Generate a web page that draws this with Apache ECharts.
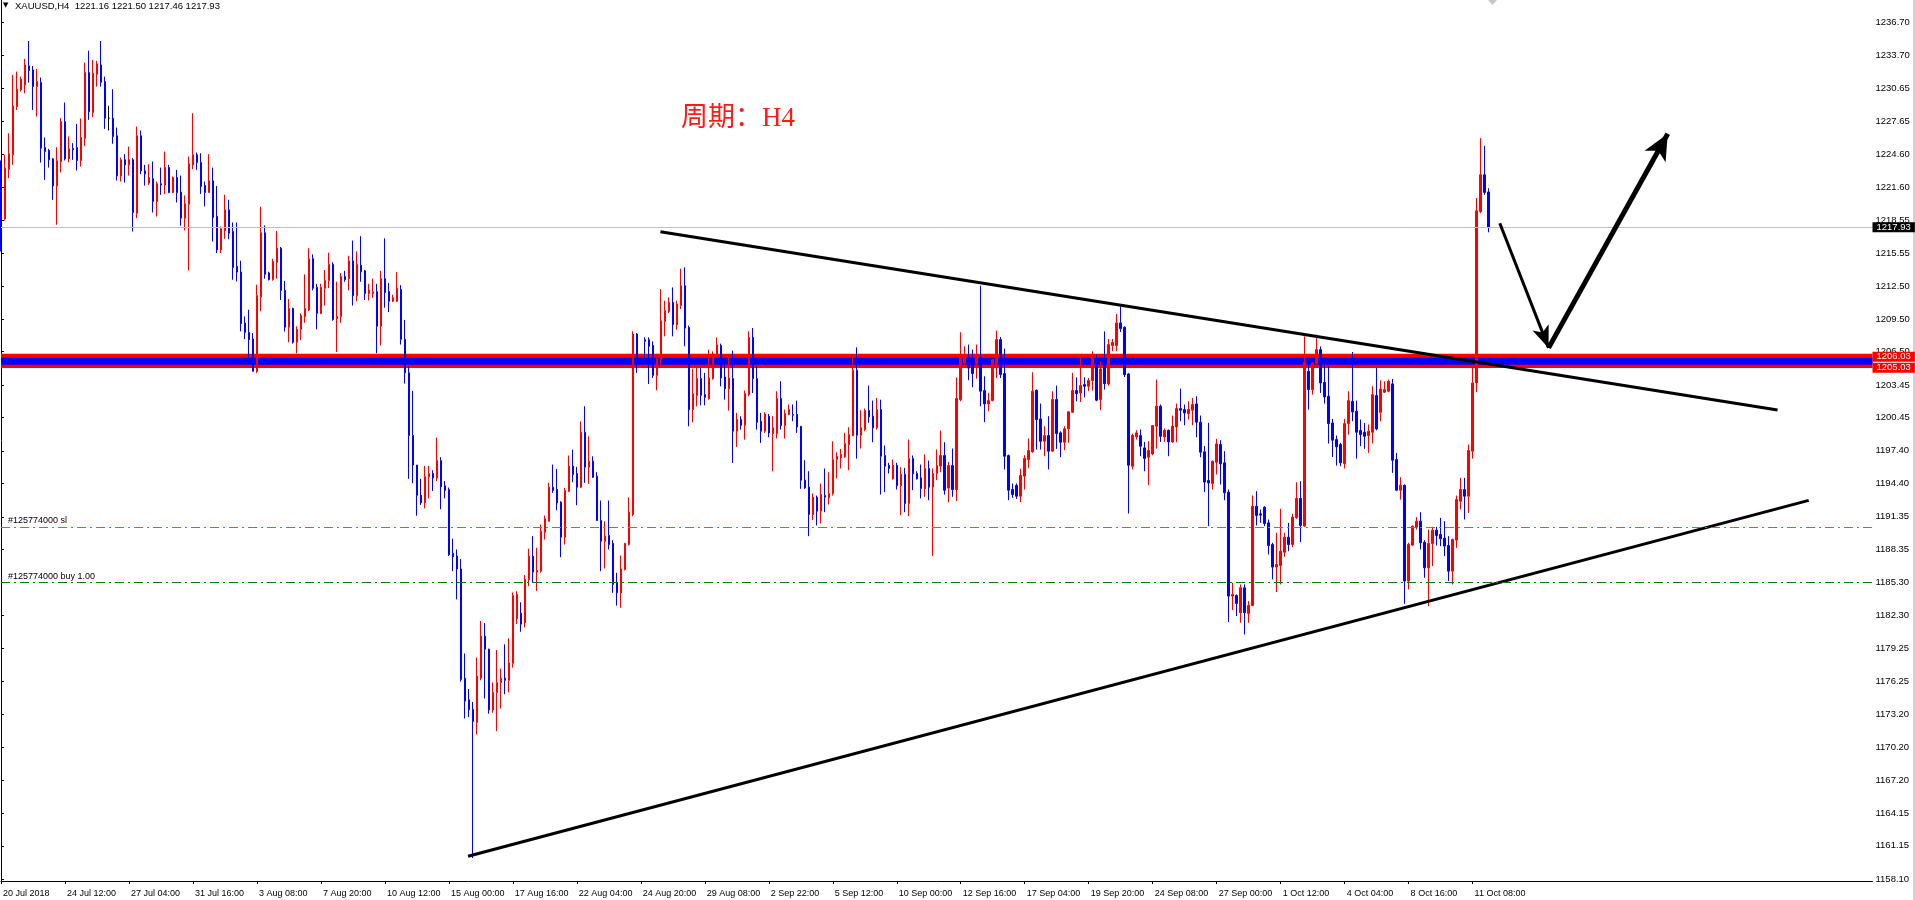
<!DOCTYPE html>
<html><head><meta charset="utf-8">
<script src="https://cdn.jsdelivr.net/npm/echarts@6/dist/echarts.min.js"></script>
<style>html,body{margin:0;padding:0;background:#fff;}#c{width:1915px;height:900px;}</style>
</head><body><div id="c"></div>
<script>
// ---------------- data ----------------
const tickLabels = ["20 Jul 2018","24 Jul 12:00","27 Jul 04:00","31 Jul 16:00","3 Aug 08:00","7 Aug 20:00","10 Aug 12:00","15 Aug 00:00","17 Aug 16:00","22 Aug 04:00","24 Aug 20:00","29 Aug 08:00","2 Sep 22:00","5 Sep 12:00","10 Sep 00:00","12 Sep 16:00","17 Sep 04:00","19 Sep 20:00","24 Sep 08:00","27 Sep 00:00","1 Oct 12:00","4 Oct 04:00","8 Oct 16:00","11 Oct 08:00"];
const barsPerLabel = 16;
const slotCount = 469; // bar slots incl. empty right margin (chart shift)
const yTicks = [1236.70,1233.70,1230.65,1227.65,1224.60,1221.60,1218.55,1215.55,1212.50,1209.50,1206.50,1203.45,1200.45,1197.40,1194.40,1191.35,1188.35,1185.30,1182.30,1179.25,1176.25,1173.20,1170.20,1167.20,1164.15,1161.15,1158.10];
// [open, close, low, high]
const candles = [
[1223.34,1218.76,1215.70,1224.05],[1218.70,1223.34,1218.54,1224.57],[1223.25,1224.66,1222.43,1226.55],[1224.57,1229.06,1223.65,1231.90],
[1229.00,1230.59,1228.69,1232.21],[1230.53,1231.51,1230.37,1231.75],[1230.99,1232.82,1230.22,1233.37],[1232.73,1232.30,1231.20,1235.02],
[1232.36,1230.83,1228.69,1232.73],[1230.83,1231.29,1228.08,1232.45],[1231.20,1225.18,1223.86,1231.66],[1225.24,1224.87,1222.27,1226.16],
[1224.96,1224.11,1223.40,1225.12],[1224.20,1221.72,1220.44,1224.26],[1221.72,1224.02,1218.15,1225.27],[1223.96,1227.62,1222.95,1227.93],
[1227.62,1224.20,1224.05,1229.37],[1224.20,1225.12,1223.89,1226.25],[1225.15,1225.03,1224.11,1225.64],[1225.24,1224.05,1223.13,1227.41],
[1224.05,1226.16,1223.50,1227.90],[1226.10,1232.12,1225.39,1233.03],[1232.12,1228.54,1227.78,1234.13],[1228.45,1232.06,1228.02,1233.28],
[1231.96,1232.91,1230.83,1233.19],[1232.82,1231.23,1230.83,1235.02],[1231.29,1227.93,1226.95,1231.75],[1227.93,1227.93,1226.80,1229.06],
[1227.93,1226.25,1225.58,1230.59],[1226.31,1222.64,1222.21,1227.07],[1222.64,1224.11,1222.12,1224.32],[1224.11,1223.65,1222.03,1224.63],
[1223.65,1224.11,1222.67,1225.33],[1224.11,1219.28,1217.53,1224.26],[1219.22,1226.31,1218.76,1227.16],[1226.31,1223.10,1222.79,1226.80],
[1223.10,1222.82,1221.75,1223.65],[1221.97,1222.49,1221.81,1223.71],[1222.37,1220.29,1219.28,1223.96],[1220.29,1221.91,1218.91,1222.12],
[1221.91,1221.81,1220.90,1223.40],[1221.81,1223.40,1220.96,1224.87],[1223.40,1221.11,1221.05,1223.65],[1221.11,1222.49,1221.05,1222.58],
[1222.49,1221.11,1220.20,1223.19],[1221.14,1218.76,1218.06,1222.67],[1218.76,1220.07,1217.63,1220.84],[1220.04,1223.74,1213.96,1224.41],
[1223.65,1224.57,1223.25,1228.39],[1224.57,1223.86,1223.19,1224.78],[1223.86,1221.66,1220.99,1224.72],[1221.75,1221.11,1219.83,1222.12],
[1221.11,1222.18,1221.11,1224.63],[1222.18,1218.82,1216.62,1223.40],[1218.91,1215.85,1215.55,1221.72],[1215.85,1217.78,1215.55,1217.99],
[1217.60,1219.52,1216.86,1220.90],[1219.52,1217.38,1216.83,1220.44],[1217.53,1214.23,1213.10,1218.36],[1214.33,1213.81,1212.95,1218.36],
[1213.81,1209.07,1208.36,1214.85],[1209.13,1208.27,1207.66,1209.74],[1208.27,1207.60,1205.37,1210.35],[1207.66,1204.70,1204.70,1208.21],
[1204.70,1211.64,1204.54,1212.65],[1211.53,1217.42,1210.22,1219.80],[1217.42,1213.60,1213.20,1218.09],[1213.72,1213.12,1213.04,1213.84],
[1213.12,1214.79,1213.02,1215.03],[1214.71,1215.99,1213.20,1217.58],[1215.99,1212.13,1211.25,1216.11],[1212.13,1208.75,1208.35,1213.00],
[1208.75,1210.46,1207.36,1211.33],[1210.46,1207.36,1207.24,1210.54],[1207.36,1208.55,1206.36,1208.83],[1208.55,1209.82,1207.56,1210.02],
[1209.74,1210.46,1209.15,1213.60],[1210.34,1215.03,1210.22,1215.99],[1215.03,1212.33,1212.13,1215.43],[1212.41,1210.02,1208.55,1212.73],
[1210.02,1212.41,1209.94,1212.73],[1212.33,1213.04,1210.74,1214.00],[1213.04,1214.51,1212.33,1215.59],[1214.51,1209.46,1209.34,1214.71],
[1209.54,1209.74,1206.48,1212.92],[1209.74,1213.40,1209.15,1213.72],[1213.40,1213.12,1212.92,1213.92],[1213.20,1214.83,1212.13,1215.31],
[1214.83,1211.65,1210.74,1216.70],[1211.65,1214.51,1211.13,1215.71],[1214.43,1213.84,1212.92,1217.10],[1213.92,1211.85,1211.25,1214.00],
[1211.85,1212.13,1211.21,1212.73],[1211.85,1212.01,1211.45,1213.20],[1212.01,1208.83,1206.36,1212.73],[1208.83,1213.20,1207.08,1213.92],
[1213.20,1211.93,1210.54,1216.90],[1212.01,1211.13,1210.14,1212.81],[1211.13,1211.45,1211.05,1211.73],[1211.13,1212.33,1211.05,1213.80],
[1212.21,1207.64,1207.16,1212.61],[1207.64,1204.57,1203.58,1209.42],[1204.57,1198.81,1194.83,1205.17],[1198.81,1196.10,1194.43,1202.90],
[1196.10,1193.32,1191.45,1196.10],[1193.32,1192.64,1192.44,1194.83],[1192.64,1195.03,1192.12,1196.02],[1195.03,1195.31,1193.04,1196.02],
[1195.31,1194.91,1193.72,1195.62],[1194.91,1196.50,1194.63,1198.61],[1196.50,1194.11,1192.04,1196.82],[1194.19,1193.76,1193.04,1194.63],
[1193.84,1187.87,1187.75,1194.03],[1187.99,1187.67,1186.36,1189.34],[1187.75,1186.56,1183.77,1188.35],[1186.56,1176.42,1176.22,1187.47],
[1176.54,1174.43,1172.84,1178.80],[1174.55,1173.63,1172.96,1175.54],[1173.67,1172.56,1160.03,1174.35],[1172.48,1176.74,1171.36,1178.44],
[1176.54,1180.39,1176.34,1181.79],[1180.39,1179.20,1174.67,1181.59],[1179.20,1173.63,1173.28,1179.24],[1173.63,1175.22,1173.36,1176.14],
[1175.22,1176.14,1171.68,1179.12],[1176.14,1176.54,1173.75,1177.41],[1176.54,1176.34,1175.06,1179.64],[1176.34,1177.93,1175.22,1180.19],
[1177.90,1184.13,1177.50,1184.40],[1182.00,1184.22,1181.50,1184.52],[1182.50,1181.50,1180.80,1183.50],[1181.60,1185.59,1181.20,1186.00],
[1185.59,1187.73,1184.98,1188.41],[1187.73,1186.27,1185.29,1189.57],[1186.27,1186.42,1184.53,1188.50],[1186.36,1190.03,1186.21,1190.64],
[1189.93,1191.16,1189.26,1191.46],[1190.94,1194.06,1190.94,1194.46],[1194.06,1193.75,1193.54,1196.14],[1193.85,1192.62,1191.95,1195.74],
[1192.68,1189.48,1187.64,1192.78],[1189.48,1193.75,1188.80,1194.00],[1193.69,1195.99,1193.63,1196.97],[1195.99,1195.22,1194.52,1197.51],
[1195.31,1194.06,1192.41,1195.93],[1194.06,1199.10,1193.99,1200.11],[1199.10,1195.90,1194.46,1201.49],[1195.90,1196.45,1194.37,1198.74],
[1196.45,1194.98,1194.92,1196.90],[1195.07,1191.00,1191.00,1195.44],[1191.00,1189.11,1186.36,1192.84],[1189.11,1189.57,1186.60,1190.94],
[1189.63,1188.80,1188.35,1192.84],[1188.90,1185.14,1184.37,1189.20],[1185.29,1184.37,1183.20,1186.21],[1184.37,1186.57,1183.00,1187.79],
[1186.51,1188.90,1186.42,1188.96],[1188.80,1191.77,1188.71,1193.14],[1191.55,1208.12,1191.40,1208.37],[1208.12,1205.83,1204.55,1208.21],
[1205.83,1205.40,1205.31,1205.98],[1207.60,1207.45,1205.77,1207.82],[1207.60,1206.99,1203.54,1207.82],[1207.08,1204.33,1204.09,1207.45],
[1204.33,1205.83,1202.96,1205.92],[1205.77,1209.34,1205.31,1212.25],[1209.28,1210.26,1207.91,1211.18],[1210.20,1211.03,1210.05,1211.48],
[1211.03,1208.98,1207.91,1212.40],[1208.98,1210.87,1208.52,1211.18],[1210.75,1212.55,1210.41,1214.11],[1212.55,1208.67,1207.00,1214.23],
[1208.73,1201.18,1199.65,1208.89],[1201.18,1202.65,1200.02,1204.94],[1202.47,1204.03,1201.49,1205.00],[1204.03,1202.50,1201.58,1205.00],
[1202.56,1202.31,1201.58,1204.55],[1202.19,1204.09,1202.10,1206.68],[1204.03,1206.29,1203.93,1206.53],[1206.23,1207.14,1206.08,1207.82],
[1207.08,1204.09,1203.32,1207.24],[1204.18,1203.11,1202.10,1205.31],[1203.11,1204.09,1201.09,1206.08],[1204.03,1199.20,1196.29,1206.59],
[1199.20,1200.27,1197.76,1200.88],[1200.27,1199.75,1199.35,1200.57],[1199.75,1202.65,1198.43,1202.93],[1202.56,1207.82,1202.41,1208.37],
[1207.82,1204.03,1202.71,1208.67],[1204.03,1200.02,1199.35,1205.16],[1200.11,1199.20,1198.13,1200.88],[1199.20,1200.78,1199.04,1200.94],
[1200.57,1199.04,1198.65,1200.78],[1198.99,1199.51,1195.53,1200.58],[1198.99,1202.20,1198.53,1202.87],[1202.20,1199.72,1199.35,1203.79],
[1199.72,1200.82,1198.53,1201.19],[1200.73,1201.19,1200.67,1201.65],[1200.73,1200.67,1200.12,1201.65],[1200.73,1199.60,1199.05,1202.01],
[1199.66,1194.71,1193.91,1199.66],[1194.71,1194.00,1193.91,1196.54],[1194.07,1191.56,1189.57,1195.53],[1191.56,1193.15,1191.04,1193.49],
[1193.15,1191.86,1190.55,1193.30],[1191.86,1193.39,1190.73,1194.40],[1193.30,1193.15,1191.77,1195.78],[1193.09,1193.49,1192.48,1195.44],
[1193.49,1196.60,1193.30,1198.28],[1196.60,1196.91,1194.86,1197.27],[1196.76,1197.06,1195.78,1197.58],[1196.85,1198.07,1196.76,1199.05],
[1197.98,1198.89,1195.62,1199.57],[1198.80,1204.79,1198.74,1206.02],[1204.79,1198.83,1196.69,1206.90],[1198.83,1199.51,1197.61,1201.13],
[1199.35,1201.10,1199.20,1201.28],[1201.10,1200.52,1199.97,1203.39],[1200.58,1199.51,1198.19,1202.01],[1199.51,1201.19,1199.35,1202.26],
[1201.19,1196.91,1193.39,1202.10],[1196.97,1195.99,1193.61,1197.89],[1196.05,1195.78,1195.32,1196.30],[1194.83,1196.05,1194.77,1196.60],
[1196.05,1194.22,1193.85,1196.30],[1194.22,1195.23,1191.50,1195.90],[1195.23,1192.57,1191.77,1195.84],[1192.57,1196.69,1191.41,1198.44],
[1196.69,1195.29,1193.79,1196.97],[1195.32,1194.83,1194.77,1195.53],[1194.92,1193.94,1193.03,1196.14],[1193.94,1195.78,1193.18,1197.06],
[1195.78,1194.07,1192.87,1196.51],[1194.07,1195.32,1187.74,1195.78],[1195.32,1196.05,1194.71,1197.52],[1196.00,1196.97,1195.44,1199.26],
[1196.97,1193.79,1193.39,1198.19],[1194.00,1196.05,1192.69,1196.39],[1196.05,1193.85,1193.18,1197.61],[1193.85,1202.20,1192.78,1204.15],
[1202.10,1206.02,1201.95,1208.28],[1205.47,1206.02,1205.10,1207.00],[1206.00,1205.00,1203.88,1207.15],[1205.30,1204.50,1203.24,1206.69],
[1205.41,1205.93,1204.03,1207.15],[1205.93,1202.87,1201.49,1212.56],[1202.93,1201.71,1200.03,1204.24],[1201.71,1202.01,1201.03,1202.72],
[1202.01,1205.77,1201.95,1205.80],[1205.31,1207.61,1204.09,1208.43],[1207.61,1204.40,1204.09,1207.85],[1204.49,1196.91,1195.69,1206.78],
[1196.97,1193.79,1192.87,1197.06],[1193.85,1193.39,1193.09,1194.40],[1194.22,1193.24,1192.99,1194.40],[1193.24,1195.14,1192.69,1195.75],
[1195.08,1196.70,1193.85,1197.00],[1196.60,1197.43,1195.84,1198.53],[1197.31,1202.87,1197.22,1204.61],[1202.96,1200.27,1197.52,1203.02],
[1200.33,1198.28,1197.52,1201.74],[1198.28,1198.80,1196.91,1199.66],[1198.80,1197.37,1195.69,1200.58],[1197.37,1202.11,1197.31,1202.87],
[1202.11,1198.99,1197.58,1203.39],[1199.05,1198.19,1196.82,1199.20],[1198.19,1199.42,1197.46,1199.66],[1199.42,1200.98,1198.13,1201.04],
[1200.95,1202.93,1200.88,1204.55],[1202.93,1202.66,1201.95,1204.15],[1202.72,1203.39,1201.89,1206.02],[1203.48,1203.33,1202.32,1204.15],
[1203.33,1203.85,1202.87,1204.09],[1203.85,1206.08,1202.93,1206.54],[1205.62,1202.05,1201.95,1206.23],[1202.11,1204.92,1201.13,1205.62],
[1205.31,1203.57,1203.02,1208.37],[1203.54,1207.15,1203.39,1207.67],[1207.06,1207.36,1206.54,1207.67],[1207.06,1209.14,1206.54,1209.96],
[1209.14,1208.62,1208.31,1210.66],[1208.74,1204.40,1204.18,1208.83],[1204.46,1196.08,1191.65,1204.55],[1195.99,1198.83,1195.69,1198.99],
[1198.68,1199.05,1198.44,1199.29],[1198.80,1197.83,1196.91,1199.36],[1197.67,1196.70,1195.53,1198.22],[1196.82,1197.43,1194.25,1198.28],
[1197.12,1199.72,1197.00,1199.75],[1199.66,1201.50,1197.61,1203.94],[1201.50,1198.74,1198.22,1201.65],[1198.68,1199.29,1198.22,1199.45],
[1199.29,1198.22,1196.91,1199.36],[1198.22,1199.66,1198.13,1200.64],[1199.60,1201.28,1198.19,1201.74],[1201.28,1201.13,1200.12,1203.11],
[1201.19,1200.88,1199.75,1201.65],[1200.82,1201.19,1200.27,1201.95],[1201.13,1201.65,1199.75,1202.26],[1201.71,1200.03,1198.65,1202.41],
[1200.03,1197.28,1196.82,1200.64],[1197.31,1194.53,1193.61,1197.83],[1194.68,1194.46,1190.49,1199.97],[1194.40,1196.45,1193.85,1196.51],
[1196.36,1198.04,1195.23,1198.50],[1197.98,1196.21,1194.31,1198.38],[1196.30,1193.55,1192.87,1197.37],[1193.61,1184.07,1181.69,1193.85],
[1184.07,1184.22,1182.79,1185.29],[1184.13,1183.40,1182.24,1184.22],[1182.54,1184.83,1181.62,1185.14],[1184.83,1182.54,1180.55,1185.14],
[1182.48,1183.21,1181.62,1183.61],[1183.21,1192.32,1183.15,1193.30],[1192.32,1191.47,1190.55,1193.70],[1191.62,1191.50,1190.79,1192.02],
[1192.23,1190.73,1190.49,1192.32],[1190.79,1188.72,1187.89,1191.10],[1188.81,1186.73,1185.60,1188.96],[1186.73,1186.97,1184.44,1189.88],
[1186.88,1188.19,1185.14,1192.08],[1188.10,1189.48,1187.68,1189.88],[1189.48,1188.81,1188.19,1190.79],[1188.81,1191.32,1188.56,1191.62],
[1191.26,1193.03,1191.16,1194.52],[1193.03,1190.55,1189.02,1194.61],[1190.49,1205.53,1190.43,1207.91],[1204.70,1203.02,1201.19,1205.37],
[1203.02,1205.47,1202.56,1205.53],[1205.41,1206.69,1205.01,1208.06],[1206.69,1203.63,1202.72,1206.99],[1203.69,1202.35,1201.74,1205.31],
[1202.41,1199.90,1198.07,1205.16],[1199.96,1198.38,1196.84,1200.33],[1198.44,1197.77,1196.05,1198.81],[1197.98,1196.30,1195.99,1198.13],
[1196.24,1199.90,1195.78,1200.33],[1199.90,1202.01,1198.89,1202.87],[1201.95,1200.97,1200.12,1206.47],[1201.04,1199.11,1196.69,1202.01],
[1199.26,1198.89,1197.83,1200.27],[1199.11,1198.74,1197.58,1199.96],[1198.80,1199.20,1197.21,1199.81],[1199.11,1202.56,1198.07,1203.33],
[1202.47,1199.41,1199.29,1205.01],[1200.94,1203.08,1200.12,1203.87],[1202.78,1203.02,1202.72,1203.78],[1202.87,1203.78,1202.78,1203.94],
[1203.54,1196.54,1195.38,1204.00],[1196.60,1193.79,1193.70,1197.21],[1193.79,1194.25,1192.93,1194.98],[1194.25,1185.45,1183.36,1194.31],
[1185.45,1188.81,1184.68,1188.96],[1188.75,1190.49,1188.66,1190.55],[1190.40,1190.95,1190.18,1191.32],[1190.95,1188.96,1188.35,1191.77],
[1189.02,1186.67,1185.75,1189.20],[1186.67,1188.90,1183.15,1190.18],[1188.90,1190.12,1186.82,1190.43],[1190.12,1189.63,1188.72,1190.43],
[1189.72,1189.33,1188.66,1191.25],[1189.39,1188.66,1187.74,1190.95],[1188.72,1186.36,1185.45,1189.57],[1186.36,1189.27,1185.14,1189.33],
[1189.21,1192.93,1188.50,1193.30],[1192.78,1193.85,1192.02,1194.92],[1193.85,1193.24,1191.10,1194.92],[1193.24,1197.43,1191.71,1197.98],
[1197.37,1203.63,1196.69,1205.01],[1203.63,1219.43,1202.78,1220.60],[1219.37,1222.74,1219.22,1226.10],[1222.74,1221.12,1220.90,1225.40],
[1221.16,1217.93,1217.46,1221.50]
];
const bidPrice = 1217.93;
const zoneHigh = 1206.03, zoneLow = 1205.03;
const zoneOuter = [1206.32, 1205.00];
const zoneInner = [1205.95, 1205.31];
const slPrice = 1190.43, buyPrice = 1185.30;
// trend lines: [bar index, price]
const resistance = [[164.9,1217.51],[444.25,1201.15]];
const support = [[116.8,1160.19],[452.05,1192.85]];
const arrowDown = [[374.8,1218.29],[387.0,1206.85]];
const arrowUp = [[387.0,1206.85],[416.8,1226.50]];

// ---------------- chart ----------------
const categories = Array.from({length: slotCount}, (_, i) => String(i));
const showTick = (i) => i % barsPerLabel === 0 && i / barsPerLabel < tickLabels.length;
const candleData = candles.map(c => c[0] === c[1]
  ? {value: c, itemStyle: {color: '#000', color0: '#000', borderColor: '#000', borderColor0: '#000'}}
  : c);
const FONT = 'Liberation Sans';
const NOLINE = {color: 'rgba(0,0,0,0)', width: 0};

const chart = echarts.init(document.getElementById('c'), null, {renderer: 'canvas'});
chart.setOption({
  animation: false,
  backgroundColor: '#ffffff',
  grid: {left: 0.5, right: 42.5, top: 0, bottom: 19, containLabel: false},
  xAxis: [{
    type: 'category', data: categories, boundaryGap: false,
    axisLine: {show: true, lineStyle: {color: '#000', width: 1}},
    axisTick: {show: true, length: 3, interval: (i) => showTick(i), lineStyle: {color: '#000'}},
    axisLabel: {interval: (i) => showTick(i), formatter: (v, i) => tickLabels[Math.round(i / barsPerLabel)] || '',
      align: 'left', color: '#000', fontSize: 9, fontFamily: FONT, margin: 8, padding: [0, 0, 0, 2]},
    splitLine: {show: false}
  }, {
    type: 'value', min: 0, max: slotCount - 1, show: false
  }],
  yAxis: {
    type: 'value', position: 'right', min: 1157.92, max: 1238.78, scale: true,
    axisLine: {show: true, lineStyle: {color: '#000', width: 1}},
    axisTick: {show: true, length: 3, customValues: yTicks, lineStyle: {color: '#000'}},
    axisLabel: {customValues: yTicks, formatter: (v) => v.toFixed(2), color: '#000', fontSize: 9.5, fontFamily: FONT, margin: 3},
    splitLine: {show: false}
  },
  series: [
    { // zone band + horizontal levels (behind candles)
      type: 'line', xAxisIndex: 1, yAxisIndex: 0, data: [], z: 1, silent: true,
      markArea: {silent: true, data: [
        [{yAxis: zoneOuter[0], itemStyle: {color: '#ff0000'}}, {yAxis: zoneOuter[1]}],
        [{yAxis: zoneInner[0], itemStyle: {color: '#0000ff'}}, {yAxis: zoneInner[1]}]
      ]},
      markLine: {silent: true, symbol: ['none', 'none'], data: [
        {yAxis: bidPrice, lineStyle: {color: '#c0c0c0', width: 1, type: 'solid'}, label: {show: false}},
        {yAxis: slPrice, lineStyle: {color: '#ff4a1a', width: 1, type: [9, 4, 2, 4]},
          label: {show: true, position: 'insideStartTop', formatter: '#125774000 sl', color: '#000', fontSize: 9, fontFamily: FONT, distance: [7, 2]}},
        {yAxis: buyPrice, lineStyle: {color: '#008000', width: 1, type: [9, 4, 2, 4]},
          label: {show: true, position: 'insideStartTop', formatter: '#125774000 buy 1.00', color: '#000', fontSize: 9, fontFamily: FONT, distance: [7, 2]}}
      ]}
    },
    {
      type: 'candlestick', xAxisIndex: 0, yAxisIndex: 0, data: candleData, z: 2, barWidth: 2,
      itemStyle: {color: '#ff0000', color0: '#0000ff', borderColor: '#ff0000', borderColor0: '#0000ff', borderWidth: 1}
    },
    {
      type: 'line', xAxisIndex: 1, yAxisIndex: 0, data: resistance, z: 3, symbol: 'none', silent: true,
      lineStyle: {color: '#000', width: 3}
    },
    {
      type: 'line', xAxisIndex: 1, yAxisIndex: 0, data: support, z: 3, symbol: 'none', silent: true,
      lineStyle: {color: '#000', width: 3}
    },
    { // arrows
      type: 'line', xAxisIndex: 1, yAxisIndex: 0, data: [], z: 4, silent: true,
      markLine: {silent: true, symbol: ['none', 'arrow'], label: {show: false},
        lineStyle: {color: '#000', type: 'solid'},
        data: [
          [{coord: arrowDown[0], lineStyle: {width: 3}, symbol: 'none'}, {coord: arrowDown[1], symbol: 'arrow', symbolSize: [13, 22]}],
          [{coord: arrowUp[0], lineStyle: {width: 5}, symbol: 'none'}, {coord: arrowUp[1], symbol: 'arrow', symbolSize: [18, 26]}]
        ]}
    },
    { // axis price tags
      type: 'line', xAxisIndex: 1, yAxisIndex: 0, data: [], z: 10, silent: true,
      markLine: {silent: true, symbol: ['none', 'none'], lineStyle: NOLINE,
        label: {show: true, position: 'end', distance: 0, color: '#fff', fontSize: 9.5, fontFamily: FONT,
          padding: [1, 4, 0, 4], lineHeight: 9},
        data: [
          {yAxis: bidPrice, lineStyle: NOLINE, label: {formatter: bidPrice.toFixed(2), backgroundColor: '#000', color: '#fff'}},
          {yAxis: zoneHigh, lineStyle: NOLINE, label: {formatter: zoneHigh.toFixed(2), backgroundColor: '#ff0000', color: '#fff'}},
          {yAxis: zoneLow, lineStyle: NOLINE, label: {formatter: zoneLow.toFixed(2), backgroundColor: '#ff0000', color: '#fff'}}
        ]}
    }
  ],
  graphic: [
    {type: 'text', left: 3, top: 2, style: {text: '▼', fontSize: 7, fontFamily: 'DejaVu Sans', fill: '#000'}},
    {type: 'text', left: 15, top: 1, style: {text: 'XAUUSD,H4  1221.16 1221.50 1217.46 1217.93', fontSize: 9.5, fontFamily: FONT, fill: '#000'}},
    {type: 'text', left: 681, top: 105, style: {text: '周期：H4', fontSize: 27, fontFamily: "'Liberation Serif', 'Noto Sans CJK SC'", fill: '#ff1a1a'}},
    {type: 'polygon', shape: {points: [[1488, 0], [1497, 0], [1492.5, 5]]}, style: {fill: '#c8c8c8'}},
    {type: 'rect', right: 0, top: 0, shape: {width: 2, height: 900}, style: {fill: '#d4d4d4'}}
  ]
});
</script></body></html>
